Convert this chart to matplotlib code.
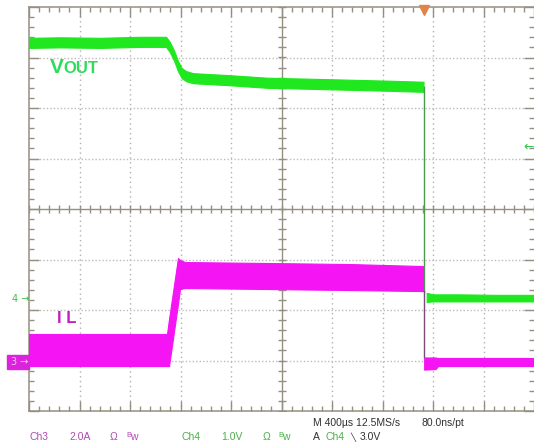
import numpy as np
import matplotlib
matplotlib.use("Agg")
import matplotlib.pyplot as plt
from matplotlib.patches import Rectangle

# scope settings
us_per_div = 400.0
volt_per_div = 1.0      # Ch4
amp_per_div = 2.0       # Ch3
ch4_offset = -1.78      # divisions, ground marker of Ch4
ch3_offset = -3.05      # divisions, ground marker of Ch3
trig_time = 3128.0      # us
trig_level = 3.0        # V on Ch4

# Vout (Ch4) before shutdown: centre of the noisy band, volts
vout_t = [0, 245, 565, 880, 1085, 1115, 1150, 1180, 1210, 1245, 1300, 1590, 1885, 2225, 2545, 2860, 3125]
vout_v = [5.07, 5.08, 5.07, 5.09, 5.09, 4.99, 4.81, 4.61, 4.47, 4.41, 4.37, 4.33, 4.28, 4.26, 4.24, 4.22, 4.20]
vout_ripple = 0.10
# Vout after shutdown
vout2_t = [3150, 3200, 3400, 3700, 4000]
vout2_hi = [0.12, 0.09, 0.09, 0.08, 0.08]
vout2_lo = [-0.06, -0.05, -0.05, -0.05, -0.05]

# IL (Ch3): upper / lower envelope of the ripple band, amps
il_t = [0, 562, 1093, 1109, 1180, 1196, 1236, 1909, 2543, 3121]
il_hi = [1.15, 1.15, 1.15, 1.74, 4.16, 4.08, 4.00, 3.96, 3.92, 3.84]
il_lo = [-0.12, -0.12, -0.12, -0.12, 2.34, 2.93, 2.97, 2.93, 2.89, 2.85]
il2_t = [3130, 3220, 3240, 4000]
il2_hi = [0.22, 0.22, 0.20, 0.20]
il2_lo = [-0.26, -0.24, -0.12, -0.12]

W, H = 534, 445
fig = plt.figure(figsize=(W / 100, H / 100), dpi=100)
ax = fig.add_axes([29 / W, 34 / H, 505 / W, 404 / H])
ax.set_xlim(0, 10)
ax.set_ylim(-4, 4)

grid_c = "#948f82"
for s in ["left", "top", "bottom"]:
    ax.spines[s].set_color(grid_c)
    ax.spines[s].set_linewidth(1.1)
ax.spines["right"].set_visible(False)
ax.set_xticks(range(11))
ax.set_yticks(range(-4, 5))
ax.set_xticks(np.arange(0, 10.01, 0.2), minor=True)
ax.set_yticks(np.arange(-4, 4.01, 0.2), minor=True)
ax.tick_params(which="both", direction="in", top=True, right=True, color=grid_c,
               labelbottom=False, labelleft=False, width=1)
ax.tick_params(which="major", length=7)
ax.tick_params(which="minor", length=3.6)

# dotted graticule
for i in range(1, 10):
    if i != 5:
        ax.axvline(i, ls=(0, (1, 2.5)), lw=1, color="#b0b0b0", zorder=1)
for j in range(-3, 4):
    if j != 0:
        ax.axhline(j, ls=(0, (1, 1.5)), lw=1, color="#bcbcbc", zorder=1)
ax.axhline(0, color=grid_c, lw=1, zorder=1)
ax.axvline(5, color=grid_c, lw=1, zorder=1)
mx = np.arange(0, 10.01, 0.2)
my = np.arange(-4, 4.01, 0.2)
ax.plot(mx, np.zeros_like(mx), ls="none", marker="|", ms=6, mew=1, color=grid_c, zorder=1)
ax.plot(np.full_like(my, 5), my, ls="none", marker="_", ms=6, mew=1, color=grid_c, zorder=1)

green = "#1fe81f"
magenta = "#f414f4"

# Vout trace
t = np.array(vout_t) / us_per_div
v = np.array(vout_v) / volt_per_div + ch4_offset
ax.fill_between(t, v - vout_ripple, v + vout_ripple, color=green, lw=0.8, ec=green, zorder=3)
ax.plot([trig_time / us_per_div] * 2, [vout_v[-1] + ch4_offset, 0.14 + ch4_offset],
        color="#4c9a4c", lw=1, zorder=3)
t2 = np.array(vout2_t) / us_per_div
ax.fill_between(t2, np.array(vout2_lo) + ch4_offset, np.array(vout2_hi) + ch4_offset,
                color=green, lw=0.8, ec=green, zorder=3)

# IL trace
ti = np.array(il_t) / us_per_div
ax.fill_between(ti, np.array(il_lo) / amp_per_div + ch3_offset, np.array(il_hi) / amp_per_div + ch3_offset,
                color=magenta, lw=0.8, ec=magenta, zorder=4)
ax.plot([trig_time / us_per_div] * 2, [il_lo[-1] / amp_per_div + ch3_offset, il2_hi[0] / amp_per_div + ch3_offset],
        color="#7a4a7a", lw=1, zorder=4)
ti2 = np.array(il2_t) / us_per_div
ax.fill_between(ti2, np.array(il2_lo) / amp_per_div + ch3_offset, np.array(il2_hi) / amp_per_div + ch3_offset,
                color=magenta, lw=0.8, ec=magenta, zorder=4)

# trigger markers
ax.plot(trig_time / us_per_div, 3.94, marker="v", ms=6.5, color="#e0844a", clip_on=False, zorder=6)
ax.text(10, trig_level / volt_per_div + ch4_offset, "\u2190", ha="right", va="center",
        color="#33c24a", fontsize=9, clip_on=False)

def fx(px):
    return px / W

def fy(py):
    return 1 - py / H

# channel labels on the screen
fig.text(fx(50), fy(73), "V", color="#2edc5a", fontsize=15, fontweight="bold",
         family="Liberation Sans", va="baseline")
fig.text(fx(63), fy(73), "OUT", color="#2edc5a", fontsize=12, fontweight="bold",
         family="Liberation Sans", va="baseline")
fig.text(fx(57), fy(323), "I L", color="#c21fc2", fontsize=12, fontweight="bold",
         family="Liberation Sans", va="baseline")

# ground markers
fig.text(fx(12), fy(299), "4 \u2192", color="#3cc04a", fontsize=7, family="DejaVu Sans", va="center")
fig.add_artist(Rectangle((fx(7), fy(369)), 22 / W, 14 / H, transform=fig.transFigure,
                         color="#dd22dd", zorder=5))
fig.text(fx(11), fy(362), "3 \u2192", color="#f6c8f6", fontsize=7, family="DejaVu Sans",
         va="center", zorder=6)

# status line
mag_t = "#b24ab2"
grn_t = "#4cb04c"
blk_t = "#303030"
fs = 7.5
row1, row2 = fy(423), fy(437)
fig.text(fx(29), row2, "Ch3", color=mag_t, fontsize=fs, family="Liberation Sans", va="center")
fig.text(fx(69), row2, "2.0A", color=mag_t, fontsize=fs, family="Liberation Sans", va="center")
fig.text(fx(110), row2, "\u03a9", color=mag_t, fontsize=fs, family="Liberation Sans", va="center")
fig.text(fx(126), row2 + 0.004, "B", color=mag_t, fontsize=5.5, family="Liberation Sans", va="center")
fig.text(fx(130), row2, "w", color=mag_t, fontsize=fs, family="Liberation Sans", va="center")
fig.text(fx(181), row2, "Ch4", color=grn_t, fontsize=fs, family="Liberation Sans", va="center")
fig.text(fx(221), row2, "1.0V", color=grn_t, fontsize=fs, family="Liberation Sans", va="center")
fig.text(fx(263), row2, "\u03a9", color=grn_t, fontsize=fs, family="Liberation Sans", va="center")
fig.text(fx(278), row2 + 0.004, "B", color=grn_t, fontsize=5.5, family="Liberation Sans", va="center")
fig.text(fx(282), row2, "w", color=grn_t, fontsize=fs, family="Liberation Sans", va="center")
fig.text(fx(313), row1, "M 400\u00b5s 12.5MS/s", color=blk_t, fontsize=fs, family="Liberation Sans", va="center")
fig.text(fx(421), row1, "80.0ns/pt", color=blk_t, fontsize=fs, family="Liberation Sans", va="center")
fig.text(fx(313), row2, "A", color=blk_t, fontsize=fs, family="Liberation Sans", va="center")
fig.text(fx(326), row2, "Ch4", color=grn_t, fontsize=fs, family="Liberation Sans", va="center")
fig.text(fx(350), row2, "\u2572", color=blk_t, fontsize=6, family="DejaVu Sans", va="center")
fig.text(fx(360), row2, "3.0V", color=blk_t, fontsize=fs, family="Liberation Sans", va="center")

fig.savefig("out.png", dpi=100)
